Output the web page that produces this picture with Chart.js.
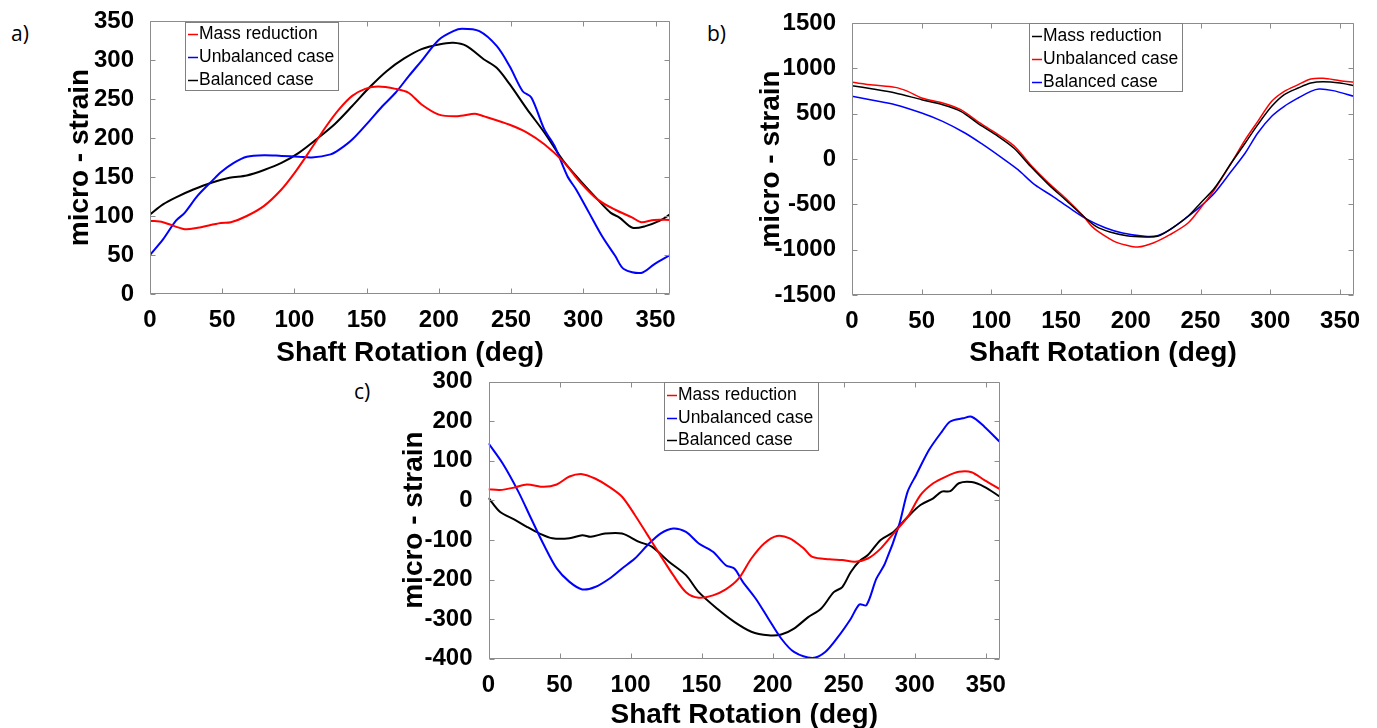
<!DOCTYPE html>
<html>
<head>
<meta charset="utf-8">
<script src="https://cdn.jsdelivr.net/npm/chart.js@4.4.1/dist/chart.umd.min.js"></script>
<style>
  html, body { margin:0; padding:0; background:#fff; width:1377px; height:728px; overflow:hidden; }
  .panel { position:absolute; }
  .lab { position:absolute; font-family:'Open Sans', sans-serif; font-size:21px; line-height:30px; color:#000; }
</style>
</head>
<body>
<div class="lab" style="left:11px; top:18px;">a)</div>
<div class="lab" style="left:707px; top:18px;">b)</div>
<div class="lab" style="left:354px; top:376px;">c)</div>
<div class="panel" style="left:40px; top:0px;"><canvas id="ca" width="640" height="370"></canvas></div>
<div class="panel" style="left:730px; top:0px;"><canvas id="cb" width="640" height="370"></canvas></div>
<div class="panel" style="left:360px; top:365px;"><canvas id="cc" width="650" height="367"></canvas></div>
<script>
// ---------- tick labels ----------
const xTicks = [0, 50, 100, 150, 200, 250, 300, 350];
const aYTicks = [0, 50, 100, 150, 200, 250, 300, 350];
const bYTicks = [-1500, -1000, -500, 0, 500, 1000, 1500];
const cYTicks = [-400, -300, -200, -100, 0, 100, 200, 300];

// ---------- panel a ----------
const aMassX = [0,9,24,33,49,56,67,79,91,100,109,122,131,140,149,158,170,179,188,200,213,225,231,249,261,273,286,298,310,322,334,340,349,360];
const aMassY = [94,92,83,85,91,92,100,113,134,155,179,215,237,254,263,266,263,258,243,230,228,231,228,217,207,192,170,143,121,108,98,92,95,95];
const aUnbX = [0,9,18,24,33,43,49,58,67,79,91,103,112,125,131,140,152,161,170,179,188,200,210,216,228,240,249,258,264,273,280,289,295,304,313,322,328,340,349,360];
const aUnbY = [50,70,94,104,126,145,156,168,176,178,177,176,175,179,185,198,222,241,258,279,299,326,337,340,337,318,292,260,252,211,190,151,134,104,74,49,32,27,38,50];
const aBalX = [0,9,18,30,43,55,67,79,91,103,115,128,140,152,164,176,188,200,210,219,231,240,249,261,273,286,298,310,319,325,334,343,353,360];
const aBalY = [102,115,124,134,143,149,152,159,168,181,198,218,241,265,286,302,314,320,322,318,301,290,269,237,207,171,145,121,104,98,85,87,94,102];

// ---------- panel b ----------
const bMassX = [0,15,31,50,65,78,90,103,116,128,141,153,166,175,185,197,210,219,228,241,250,260,272,282,291,301,310,320,329,338,350,360];
const bMassY = [809,772,728,654,599,526,397,268,121,-81,-283,-449,-632,-743,-805,-846,-860,-853,-779,-632,-485,-320,-44,176,379,581,710,783,838,853,838,809];
const bUnbX = [0,15,31,40,50,65,78,90,103,116,128,141,153,166,172,178,188,197,205,216,228,241,250,260,272,282,291,301,310,320,329,338,350,360];
const bUnbY = [846,816,790,746,673,618,544,415,287,147,-63,-265,-430,-632,-743,-816,-908,-952,-971,-926,-835,-706,-540,-338,-44,213,415,636,746,820,882,890,864,846];
const bBalX = [0,15,31,50,65,81,94,106,119,131,144,156,169,182,194,210,219,228,241,250,260,272,282,291,301,310,320,329,335,345,360];
const bBalY = [691,647,599,507,415,287,158,29,-118,-283,-412,-540,-669,-761,-816,-853,-846,-779,-632,-522,-375,-136,66,287,471,581,673,746,772,754,691];

// ---------- panel c ----------
const cMassX = [0,8,18,27,39,48,57,66,75,85,94,103,112,121,130,139,148,158,167,176,185,194,203,212,222,228,240,249,258,267,276,285,295,304,313,322,331,340,349,360];
const cMassY = [28,26,32,40,34,40,60,66,55,34,9,-37,-88,-139,-189,-232,-246,-240,-225,-198,-147,-109,-90,-96,-122,-143,-149,-151,-155,-147,-122,-84,-42,13,43,60,72,71,51,28];
const cUnbX = [0,10,21,30,39,48,57,66,75,85,94,103,112,121,130,139,148,158,167,173,179,188,197,206,215,228,237,246,255,261,266,273,279,289,295,301,310,319,325,334,340,349,360];
const cUnbY = [144,93,22,-46,-113,-172,-206,-225,-219,-198,-172,-147,-113,-84,-71,-80,-109,-130,-164,-172,-206,-248,-299,-349,-383,-398,-383,-345,-299,-263,-265,-198,-160,-62,22,64,127,173,199,207,211,186,147];
const cBalX = [0,8,18,27,36,45,57,66,72,82,94,106,115,127,139,148,161,173,185,197,206,215,225,234,243,249,255,261,267,276,285,295,304,313,319,325,331,340,349,360];
const cBalY = [6,-29,-48,-67,-84,-96,-96,-88,-92,-84,-84,-105,-117,-155,-189,-232,-274,-307,-332,-341,-339,-324,-295,-274,-232,-219,-181,-154,-138,-100,-80,-42,-12,5,22,23,43,46,34,9];

const seriesLabels = ['Mass reduction', 'Unbalanced case', 'Balanced case'];

const RED = '#ff0000', BLUE = '#0000ff', BLACK = '#000000';
const FRAME = '#8c8c8c';

Chart.defaults.font.family = "'Liberation Sans', Arial, sans-serif";
Chart.defaults.color = '#000';

function pts(xs, ys) { return xs.map((x, i) => ({ x: x, y: ys[i] })); }

const framePlugin = {
  id: 'matlabFrame',
  afterDraw(chart, args, opts) {
    const { ctx, chartArea: a } = chart;
    const xs = chart.scales.x, ys = chart.scales.y;
    ctx.save();
    ctx.strokeStyle = FRAME;
    ctx.lineWidth = 1;
    const L = Math.round(a.left) + 0.5, R = Math.round(a.right) - 0.5,
          T = Math.round(a.top) + 0.5, B = Math.round(a.bottom) - 0.5;
    ctx.beginPath();
    ctx.rect(L, T, R - L, B - T);
    const tl = 5;
    xs.ticks.forEach(t => {
      const p = Math.round(xs.getPixelForValue(t.value)) + 0.5;
      ctx.moveTo(p, B); ctx.lineTo(p, B - tl);
      ctx.moveTo(p, T); ctx.lineTo(p, T + tl);
    });
    ys.ticks.forEach(t => {
      const p = Math.round(ys.getPixelForValue(t.value)) + 0.5;
      ctx.moveTo(L, p); ctx.lineTo(L + tl, p);
      ctx.moveTo(R, p); ctx.lineTo(R - tl, p);
    });
    ctx.stroke();
    const lg = opts.legend;
    if (lg) {
      ctx.fillStyle = '#fff';
      ctx.fillRect(lg.x, lg.y, lg.w, lg.h);
      ctx.strokeStyle = '#808080';
      ctx.strokeRect(lg.x + 0.5, lg.y + 0.5, lg.w, lg.h);
      ctx.font = "17.5px 'Liberation Sans', Arial, sans-serif";
      ctx.textBaseline = 'middle';
      ctx.textAlign = 'left';
      chart.data.datasets.forEach((ds, i) => {
        const cy = Math.round(lg.y + lg.first + i * lg.gap) + 0.5;
        ctx.strokeStyle = ds.borderColor;
        ctx.lineWidth = 1.5;
        ctx.beginPath();
        ctx.moveTo(lg.x + 3, cy); ctx.lineTo(lg.x + 13, cy);
        ctx.stroke();
        ctx.fillStyle = '#000';
        ctx.fillText(ds.label, lg.x + 14, cy);
      });
    }
    ctx.restore();
  }
};

function makeChart(id, o) {
  return new Chart(document.getElementById(id), {
    type: 'line',
    data: {
      datasets: o.series.map(s => ({
        label: s.label, data: pts(s.xs, s.ys), borderColor: s.color,
        borderWidth: o.lw, pointRadius: 0, tension: 0.3, fill: false
      }))
    },
    plugins: [framePlugin],
    options: {
      responsive: false, animation: false, devicePixelRatio: 1,
      layout: { padding: { top: o.padTop, right: o.padRight, left: 0, bottom: 0 } },
      plugins: {
        legend: { display: false }, tooltip: { enabled: false },
        matlabFrame: { legend: o.legend }
      },
      scales: {
        x: {
          type: 'linear', min: 0, max: 360,
          grid: { display: false }, border: { display: false },
          afterBuildTicks: s => { s.ticks = xTicks.map(v => ({ value: v })); },
          afterFit: s => { s.height = o.xH; s.paddingLeft = 0; s.paddingRight = 0; },
          ticks: { autoSkip: false, maxRotation: 0, padding: 4, color: '#000',
                   font: { size: 24, weight: 'bold' }, callback: v => String(v) },
          title: { display: true, text: 'Shaft Rotation (deg)', color: '#000',
                   font: { size: 28, weight: 'bold' }, padding: { top: 0, bottom: o.xTitlePad } }
        },
        y: {
          type: 'linear', min: o.yMin, max: o.yMax,
          grid: { display: false }, border: { display: false },
          afterBuildTicks: s => { s.ticks = o.yTicks.map(v => ({ value: v })); },
          afterFit: s => { s.width = o.yW; s.paddingTop = 0; s.paddingBottom = 0; },
          ticks: { padding: 8, color: '#000', font: { size: 24, weight: 'bold' },
                   callback: v => String(v) },
          title: { display: true, text: 'micro - strain', color: '#000',
                   font: { size: 28, weight: 'bold' }, padding: { top: o.yTitlePad, bottom: 0 } }
        }
      }
    }
  });
}

makeChart('ca', {
  series: [
    { label: seriesLabels[0], xs: aMassX, ys: aMassY, color: RED },
    { label: seriesLabels[1], xs: aUnbX, ys: aUnbY, color: BLUE },
    { label: seriesLabels[2], xs: aBalX, ys: aBalY, color: BLACK }
  ],
  lw: 2, yMin: 0, yMax: 350, yTicks: aYTicks,
  padTop: 21, padRight: 10, yW: 110, xH: 76, yTitlePad: 23, xTitlePad: 0,
  legend: { x: 145, y: 22, w: 153, h: 68, first: 12, gap: 22.8 }
});

makeChart('cb', {
  series: [
    { label: seriesLabels[0], xs: bMassX, ys: bMassY, color: BLACK },
    { label: seriesLabels[1], xs: bUnbX, ys: bUnbY, color: RED },
    { label: seriesLabels[2], xs: bBalX, ys: bBalY, color: BLUE }
  ],
  lw: 1.5, yMin: -1500, yMax: 1500, yTicks: bYTicks,
  padTop: 23, padRight: 16, yW: 122, xH: 75, yTitlePad: 24, xTitlePad: 0,
  legend: { x: 299, y: 23, w: 153, h: 68, first: 13, gap: 22.8 }
});

makeChart('cc', {
  series: [
    { label: seriesLabels[0], xs: cMassX, ys: cMassY, color: RED },
    { label: seriesLabels[1], xs: cUnbX, ys: cUnbY, color: BLUE },
    { label: seriesLabels[2], xs: cBalX, ys: cBalY, color: BLACK }
  ],
  lw: 2, yMin: -400, yMax: 300, yTicks: cYTicks,
  padTop: 16.5, padRight: 10, yW: 128.5, xH: 73.3, yTitlePad: 37, xTitlePad: 0,
  legend: { x: 304, y: 17, w: 154, h: 68, first: 12.7, gap: 22.8 }
});
</script>
</body>
</html>
